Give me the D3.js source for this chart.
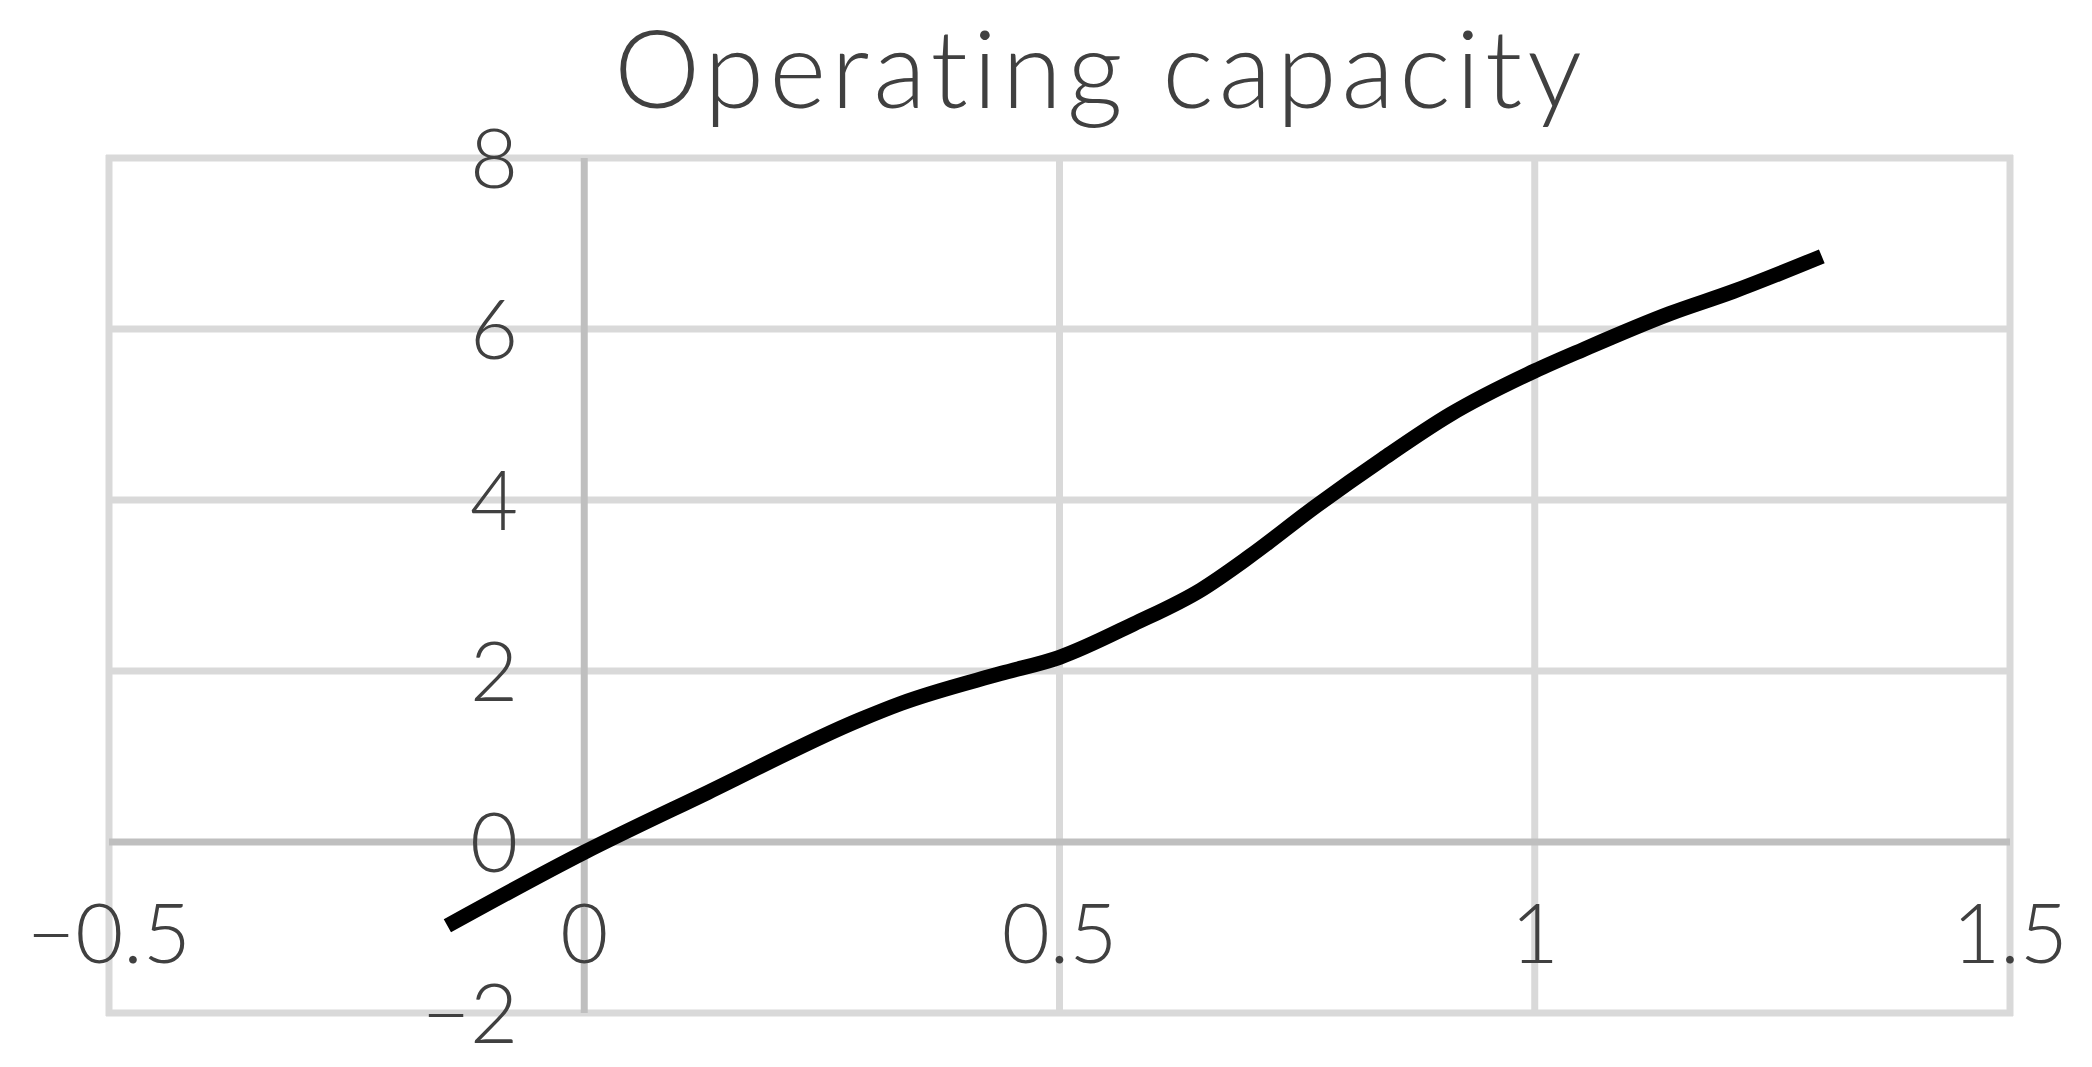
<!DOCTYPE html>
<html>
<head>
<meta charset="utf-8">
<script src="https://cdn.jsdelivr.net/npm/d3@7/dist/d3.min.js"></script>
<style>
  html, body { margin: 0; padding: 0; background: #ffffff; }
  svg { display: block; }
  text { font-variant-ligatures: none; font-feature-settings: "liga" 0, "clig" 0; }
</style>
</head>
<body>
<svg id="chart" width="2092" height="1067"></svg>
<script>
// ---- data ----
const titleText = "Operating capacity";
const xValues = [-0.144, 0, 0.13, 0.29, 0.333, 0.438, 0.5, 0.578, 0.649, 0.7, 0.77, 0.84, 0.911, 1.0, 1.051, 1.142, 1.209, 1.302];
const yValues = [-0.98, -0.12, 0.58, 1.43, 1.62, 1.97, 2.16, 2.55, 2.95, 3.34, 3.93, 4.48, 5.0, 5.51, 5.76, 6.18, 6.44, 6.85];
const xTicks = [-0.5, 0, 0.5, 1, 1.5];
const yTicks = [-2, 0, 2, 4, 6, 8];
const xTickLabels = ["\u22120.5", "0", "0.5", "1", "1.5"];
const yTickLabels = ["\u22122", "0", "2", "4", "6", "8"];

// ---- layout ----
const svg = d3.select("#chart");
const x = d3.scaleLinear().domain([-0.5, 1.5]).range([109, 2010]);
const y = d3.scaleLinear().domain([-2, 8]).range([1013, 158]);

const FONT = "Lato, 'Noto Sans', 'DejaVu Sans', sans-serif";
const textColor = "#404040";
const gridColor = "#d9d9d9";
const axisColor = "#bfbfbf";

// gridlines
const grid = svg.append("g");
grid.selectAll("line.h").data(yTicks.filter(d => d !== 0)).enter().append("line")
  .attr("x1", x(-0.5) - 3).attr("x2", x(1.5) + 3)
  .attr("y1", d => y(d)).attr("y2", d => y(d))
  .attr("stroke", gridColor).attr("stroke-width", 7);
grid.selectAll("line.v").data(xTicks.filter(d => d !== 0)).enter().append("line")
  .attr("y1", y(8) - 3).attr("y2", y(-2) + 3)
  .attr("x1", d => x(d)).attr("x2", d => x(d))
  .attr("stroke", gridColor).attr("stroke-width", 7);

// axis lines (at zero)
svg.append("line")
  .attr("x1", x(-0.5)).attr("x2", x(1.5))
  .attr("y1", y(0)).attr("y2", y(0))
  .attr("stroke", axisColor).attr("stroke-width", 7);
svg.append("line")
  .attr("x1", x(0)).attr("x2", x(0))
  .attr("y1", y(8)).attr("y2", y(-2))
  .attr("stroke", axisColor).attr("stroke-width", 7);

// y tick labels
svg.append("g").selectAll("text").data(yTicks).enter().append("text")
  .attr("x", x(0) - 66)
  .attr("y", d => y(d) + 30)
  .attr("text-anchor", "end")
  .attr("font-family", FONT).attr("font-weight", 300)
  .attr("font-size", 83).attr("fill", textColor)
  .text((d, i) => yTickLabels[i]);

// x tick labels
svg.append("g").selectAll("text").data(xTicks).enter().append("text")
  .attr("x", d => x(d))
  .attr("y", y(0) + 121)
  .attr("text-anchor", "middle")
  .attr("font-family", FONT).attr("font-weight", 300)
  .attr("font-size", 83).attr("fill", textColor)
  .text((d, i) => xTickLabels[i]);

// line
const pts = xValues.map((v, i) => [v, yValues[i]]);
const line = d3.line()
  .x(d => x(d[0])).y(d => y(d[1]))
  .curve(d3.curveMonotoneX);
svg.append("path")
  .attr("d", line(pts))
  .attr("fill", "none")
  .attr("stroke", "#000000")
  .attr("stroke-width", 15)
  .attr("stroke-linecap", "butt")
  .attr("stroke-linejoin", "round");

// title
svg.append("text")
  .attr("x", 614).attr("y", 108)
  .attr("text-anchor", "start")
  .attr("letter-spacing", 5)
  .attr("font-family", FONT).attr("font-weight", 300)
  .attr("font-size", 109).attr("fill", textColor)
  .text(titleText);
</script>
</body>
</html>
